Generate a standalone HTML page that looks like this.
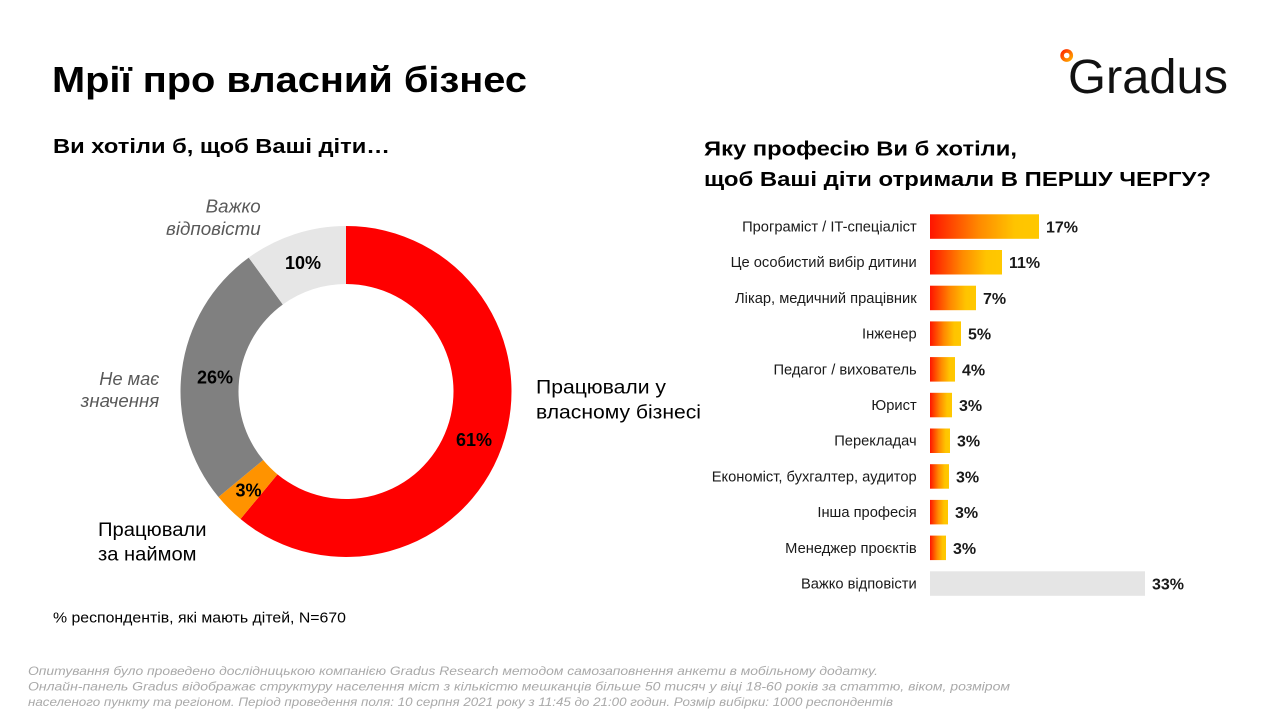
<!DOCTYPE html>
<html>
<head>
<meta charset="utf-8">
<style>
  html,body{margin:0;padding:0;background:#fff;}
  svg{display:block;}
  text{font-family:"Liberation Sans","Noto Sans CJK SC",sans-serif;}
</style>
</head>
<body>
<svg width="1280" height="720" viewBox="0 0 1280 720" xmlns="http://www.w3.org/2000/svg">
  <defs>
    <linearGradient id="bg" x1="0" y1="0" x2="1" y2="0">
      <stop offset="0" stop-color="#ff1400"/>
      <stop offset="0.45" stop-color="#ff8a00"/>
      <stop offset="0.78" stop-color="#ffc400"/>
      <stop offset="1" stop-color="#ffc800"/>
    </linearGradient>
    <linearGradient id="lg" x1="0" y1="0" x2="1" y2="1">
      <stop offset="0" stop-color="#ff2a00"/>
      <stop offset="1" stop-color="#ffa800"/>
    </linearGradient>
  </defs>
  <rect width="1280" height="720" fill="#fff"/>

  <!-- Title -->
  <text x="52" y="92" font-size="36" font-weight="bold" fill="#000" textLength="475" lengthAdjust="spacingAndGlyphs">Мрії про власний бізнес</text>

  <!-- Logo -->
  <circle cx="1066.7" cy="55.5" r="4.6" fill="none" stroke="url(#lg)" stroke-width="3.6"/>
  <text x="1068" y="93" font-size="48" font-weight="500" fill="#111" textLength="160" lengthAdjust="spacingAndGlyphs">Gradus</text>

  <!-- Left subtitle -->
  <text x="53" y="153" font-size="20" font-weight="bold" fill="#000" textLength="337" lengthAdjust="spacingAndGlyphs">Ви хотіли б, щоб Ваші діти…</text>

  <!-- Donut -->
  <path d="M346,226 A165.5,165.5 0 1 1 240.51,519.02 L277.48,474.33 A107.5,107.5 0 1 0 346,284 Z" fill="#ff0000"/>
  <path d="M240.51,519.02 A165.5,165.5 0 0 1 218.48,496.99 L263.17,460.02 A107.5,107.5 0 0 0 277.48,474.33 Z" fill="#ff9300"/>
  <path d="M218.48,496.99 A165.5,165.5 0 0 1 248.72,257.61 L282.81,304.53 A107.5,107.5 0 0 0 263.17,460.02 Z" fill="#808080"/>
  <path d="M248.72,257.61 A165.5,165.5 0 0 1 346,226 L346,284 A107.5,107.5 0 0 0 282.81,304.53 Z" fill="#e6e6e6"/>

  <text x="285" y="269" font-size="18" font-weight="bold" fill="#000">10%</text>
  <text x="197" y="383.5" font-size="18" font-weight="bold" fill="#000">26%</text>
  <text x="456" y="446" font-size="18" font-weight="bold" fill="#000">61%</text>
  <text x="235.5" y="496.5" font-size="18" font-weight="bold" fill="#000">3%</text>

  <!-- Donut category labels -->
  <text x="260.7" y="212.5" font-size="18" font-style="italic" fill="#595959" text-anchor="end" textLength="55" lengthAdjust="spacingAndGlyphs">Важко</text>
  <text x="260.7" y="235" font-size="18" font-style="italic" fill="#595959" text-anchor="end" textLength="94.7" lengthAdjust="spacingAndGlyphs">відповісти</text>
  <text x="159.3" y="385" font-size="18" font-style="italic" fill="#595959" text-anchor="end" textLength="60" lengthAdjust="spacingAndGlyphs">Не має</text>
  <text x="159.3" y="407" font-size="18" font-style="italic" fill="#595959" text-anchor="end" textLength="78.6" lengthAdjust="spacingAndGlyphs">значення</text>

  <text x="536" y="393.3" font-size="19" fill="#000" textLength="130" lengthAdjust="spacingAndGlyphs">Працювали  у</text>
  <text x="536" y="418.3" font-size="19" fill="#000" textLength="165" lengthAdjust="spacingAndGlyphs">власному  бізнесі</text>

  <text x="98" y="536" font-size="19" fill="#000" textLength="108.5" lengthAdjust="spacingAndGlyphs">Працювали</text>
  <text x="98" y="560.7" font-size="19" fill="#000" textLength="98.5" lengthAdjust="spacingAndGlyphs">за наймом</text>

  <text x="53" y="622.7" font-size="15" fill="#000" textLength="293" lengthAdjust="spacingAndGlyphs">% респондентів, які мають дітей, N=670</text>

  <!-- Right title -->
  <text x="704" y="155.5" font-size="20.5" font-weight="bold" fill="#000" textLength="313" lengthAdjust="spacingAndGlyphs">Яку професію Ви б хотіли,</text>
  <text x="704" y="186" font-size="20.5" font-weight="bold" fill="#000" textLength="507" lengthAdjust="spacingAndGlyphs">щоб Ваші діти отримали В ПЕРШУ ЧЕРГУ?</text>

  <!-- Bars -->
  <g font-size="14.7" fill="#1a1a1a" text-anchor="end">
    <text x="916.7" y="231.5">Програміст / IT-спеціаліст</text>
    <text x="916.7" y="267.2">Це особистий вибір дитини</text>
    <text x="916.7" y="302.9">Лікар, медичний працівник</text>
    <text x="916.7" y="338.6">Інженер</text>
    <text x="916.7" y="374.3">Педагог / вихователь</text>
    <text x="916.7" y="410">Юрист</text>
    <text x="916.7" y="445.7">Перекладач</text>
    <text x="916.7" y="481.4">Економіст, бухгалтер, аудитор</text>
    <text x="916.7" y="517.1">Інша професія</text>
    <text x="916.7" y="552.8">Менеджер проєктів</text>
    <text x="916.7" y="588.5">Важко відповісти</text>
  </g>

  <g>
    <rect x="930" y="214.3" width="109" height="24.5" fill="url(#bg)"/>
    <rect x="930" y="250" width="72" height="24.5" fill="url(#bg)"/>
    <rect x="930" y="285.7" width="46" height="24.5" fill="url(#bg)"/>
    <rect x="930" y="321.4" width="31" height="24.5" fill="url(#bg)"/>
    <rect x="930" y="357.1" width="25" height="24.5" fill="url(#bg)"/>
    <rect x="930" y="392.8" width="22" height="24.5" fill="url(#bg)"/>
    <rect x="930" y="428.5" width="20" height="24.5" fill="url(#bg)"/>
    <rect x="930" y="464.2" width="19" height="24.5" fill="url(#bg)"/>
    <rect x="930" y="499.9" width="18" height="24.5" fill="url(#bg)"/>
    <rect x="930" y="535.6" width="16" height="24.5" fill="url(#bg)"/>
    <rect x="930" y="571.3" width="215" height="24.5" fill="#e5e5e5"/>
  </g>

  <g font-size="16" font-weight="bold" fill="#1a1a1a">
    <text x="1046" y="232.5">17%</text>
    <text x="1009" y="268.2">11%</text>
    <text x="983" y="303.9">7%</text>
    <text x="968" y="339.6">5%</text>
    <text x="962" y="375.3">4%</text>
    <text x="959" y="411">3%</text>
    <text x="957" y="446.7">3%</text>
    <text x="956" y="482.4">3%</text>
    <text x="955" y="518.1">3%</text>
    <text x="953" y="553.8">3%</text>
    <text x="1152" y="589.5">33%</text>
  </g>

  <!-- Footer -->
  <g font-size="12" font-style="italic" fill="#a9a9a9">
    <text x="28" y="675" textLength="850" lengthAdjust="spacingAndGlyphs">Опитування  було  проведено  дослідницькою  компанією  Gradus  Research  методом  самозаповнення  анкети в мобільному додатку.</text>
    <text x="28" y="690.5" textLength="982" lengthAdjust="spacingAndGlyphs">Онлайн-панель Gradus відображає структуру населення міст з кількістю мешканців більше 50 тисяч у віці 18-60 років за статтю, віком, розміром</text>
    <text x="28" y="706" textLength="865" lengthAdjust="spacingAndGlyphs">населеного пункту та регіоном. Період проведення поля: 10 серпня 2021 року з 11:45 до 21:00 годин. Розмір вибірки: 1000 респондентів</text>
  </g>
</svg>
</body>
</html>
